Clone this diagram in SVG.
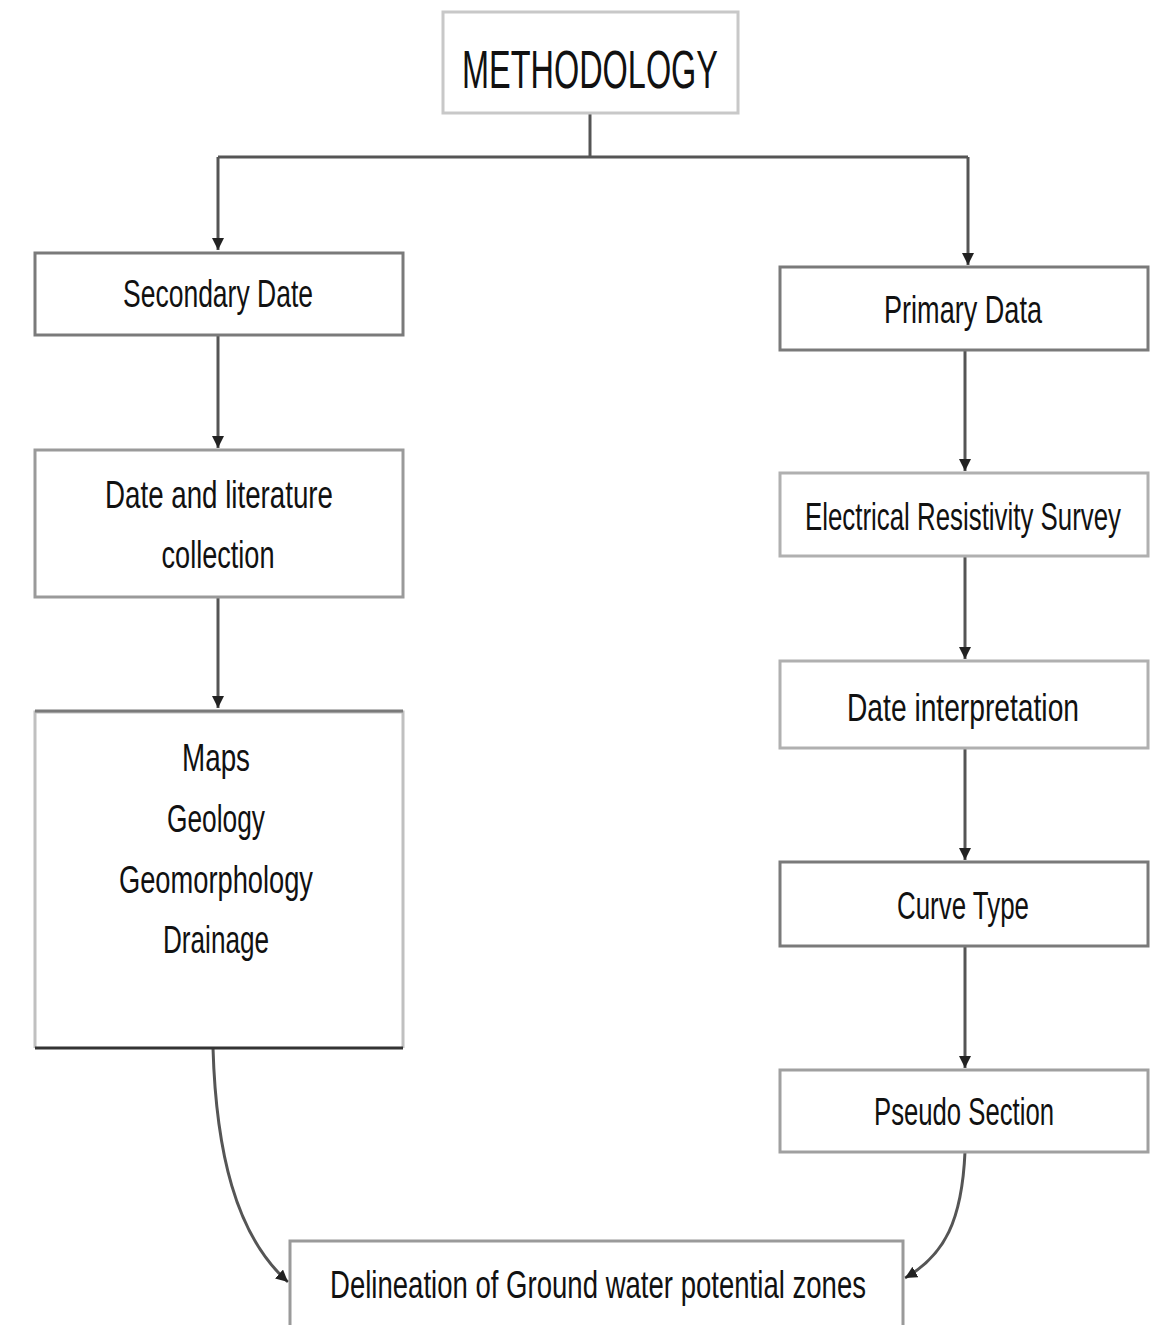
<svg xmlns="http://www.w3.org/2000/svg" width="1150" height="1325" viewBox="0 0 1150 1325">
<style>
.box{fill:#fff;stroke:#7a7a7a;stroke-width:3}
.lbl{font-family:"Liberation Sans",Arial,sans-serif;font-size:39px;fill:#111;text-anchor:middle}
.sm{font-size:28px}
.con{fill:none;stroke:#555;stroke-width:3}
</style>
<defs>
<marker id="ah" viewBox="0 0 10 10" refX="10" refY="5" markerWidth="4" markerHeight="4" orient="auto" markerUnits="strokeWidth">
<path d="M0,0 L10,5 L0,10 z" fill="#222"/>
</marker>
</defs>
<rect width="1150" height="1325" fill="#fff"/>
<g id="connectors">
<path class="con" d="M590,113 V157"/>
<path class="con" d="M218,157 H968"/>
<path class="con" d="M218,157 V250" marker-end="url(#ah)"/>
<path class="con" d="M968,157 V265" marker-end="url(#ah)"/>
<path class="con" d="M218,335 V448" marker-end="url(#ah)"/>
<path class="con" d="M218,597 V708" marker-end="url(#ah)"/>
<path class="con" d="M965,350 V471" marker-end="url(#ah)"/>
<path class="con" d="M965,556 V659" marker-end="url(#ah)"/>
<path class="con" d="M965,748 V860" marker-end="url(#ah)"/>
<path class="con" d="M965,946 V1068" marker-end="url(#ah)"/>
<path class="con" d="M213,1048 C216,1150 235,1235 288,1282" marker-end="url(#ah)"/>
<path class="con" d="M965,1152 C962,1220 945,1255 905,1278" marker-end="url(#ah)"/>
</g>
<g id="methodology">
<rect class="box" x="443" y="12" width="295" height="101" style="stroke:#c8c8c8"/>
<text class="lbl" x="590" y="88" style="font-size:54px" textLength="256" lengthAdjust="spacingAndGlyphs">METHODOLOGY</text>
</g>
<g id="secondary">
<rect class="box" x="35" y="253" width="368" height="82"/>
<text class="lbl" x="218" y="307" textLength="190" lengthAdjust="spacingAndGlyphs">Secondary Date</text>
</g>
<g id="literature">
<rect class="box" x="35" y="450" width="368" height="147" style="stroke:#9a9a9a"/>
<text class="lbl" x="219" y="508" textLength="228" lengthAdjust="spacingAndGlyphs">Date and literature</text>
<text class="lbl" x="218" y="568" textLength="113" lengthAdjust="spacingAndGlyphs">collection</text>
</g>
<g id="maps">
<path d="M35,1048 V712 H403 V1048" fill="none" stroke="#c0c0c0" stroke-width="3"/>
<path d="M35,711 H403" stroke="#7a7a7a" stroke-width="3"/>
<path d="M35,1048 H403" stroke="#333" stroke-width="3"/>
<text class="lbl" x="216" y="771" textLength="68" lengthAdjust="spacingAndGlyphs">Maps</text>
<text class="lbl" x="216" y="832" textLength="98" lengthAdjust="spacingAndGlyphs">Geology</text>
<text class="lbl" x="216" y="893" textLength="194" lengthAdjust="spacingAndGlyphs">Geomorphology</text>
<text class="lbl" x="216" y="953" textLength="106" lengthAdjust="spacingAndGlyphs">Drainage</text>
</g>
<g id="primary">
<rect class="box" x="780" y="267" width="368" height="83"/>
<text class="lbl" x="963" y="323" textLength="158" lengthAdjust="spacingAndGlyphs">Primary Data</text>
</g>
<g id="ers">
<rect class="box" x="780" y="473" width="368" height="83" style="stroke:#b0b0b0"/>
<text class="lbl sm" transform="translate(963,530) scale(1,1.39)" x="0" y="0" textLength="316" lengthAdjust="spacingAndGlyphs">Electrical Resistivity Survey</text>
</g>
<g id="interp">
<rect class="box" x="780" y="661" width="368" height="87" style="stroke:#b0b0b0"/>
<text class="lbl sm" transform="translate(963,721) scale(1,1.39)" x="0" y="0" textLength="232" lengthAdjust="spacingAndGlyphs">Date interpretation</text>
</g>
<g id="curve">
<rect class="box" x="780" y="862" width="368" height="84"/>
<text class="lbl" x="963" y="919" textLength="132" lengthAdjust="spacingAndGlyphs">Curve Type</text>
</g>
<g id="pseudo">
<rect class="box" x="780" y="1070" width="368" height="82" style="stroke:#a0a0a0"/>
<text class="lbl" x="964" y="1125" textLength="180" lengthAdjust="spacingAndGlyphs">Pseudo Section</text>
</g>
<g id="delineation">
<path d="M290,1325 V1241 H903 V1325" fill="none" stroke="#9a9a9a" stroke-width="3"/>
<text class="lbl" x="598" y="1298" textLength="536" lengthAdjust="spacingAndGlyphs">Delineation of Ground water potential zones</text>
</g>
</svg>
